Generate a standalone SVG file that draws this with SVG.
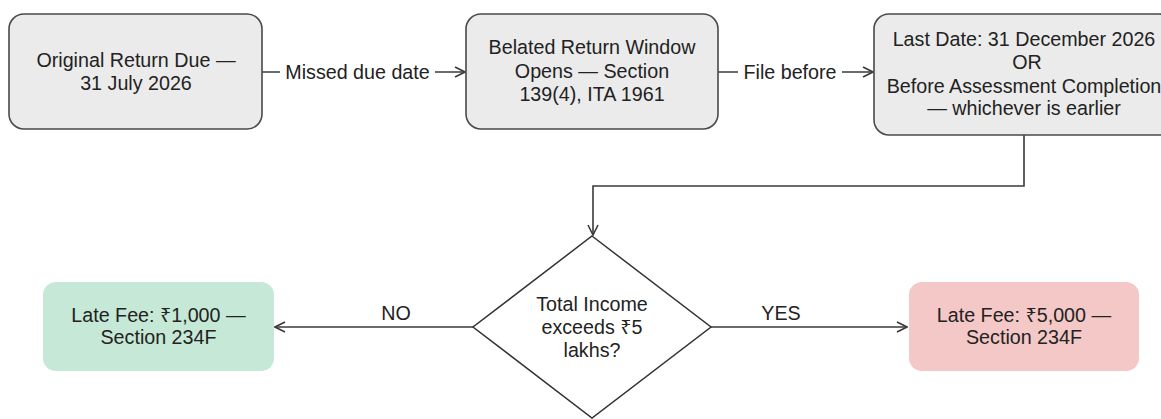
<svg xmlns="http://www.w3.org/2000/svg" width="1161" height="419" viewBox="0 0 1161 419">
<defs>
<style>
text{font-family:"Liberation Sans","Noto Sans","DejaVu Sans",Arial,sans-serif;font-size:19.7px;fill:#222;text-anchor:middle}
.box{fill:#ebebeb;stroke:#4a4a4a;stroke-width:1.6}
.dia{fill:#fff;stroke:#333;stroke-width:1.5}
.edge{fill:none;stroke:#3a3a3a;stroke-width:1.6}
.lblbg{fill:#fff}
.green{fill:#c6e8d6}
.red{fill:#f4c8c7}
</style>
<marker id="arr" viewBox="0 0 12 12" refX="11" refY="6" markerWidth="12" markerHeight="12" markerUnits="userSpaceOnUse" orient="auto">
<path d="M1,1 L11,6 L1,11" fill="none" stroke="#3a3a3a" stroke-width="1.6"/>
</marker>
</defs>
<rect width="1161" height="419" fill="#fff"/>

<g id="connectors">
<path class="edge" d="M262,72 H465" marker-end="url(#arr)"/>
<rect class="lblbg" x="280" y="58" width="155" height="28"/>
<text x="357.5" y="78.5">Missed due date</text>
<path class="edge" d="M718,72 H873" marker-end="url(#arr)"/>
<rect class="lblbg" x="738" y="58" width="104" height="28"/>
<text x="790" y="78.5">File before</text>
<path class="edge" d="M1024,135 V186 H593 V235" marker-end="url(#arr)"/>
<path class="edge" d="M473,327 H275" marker-end="url(#arr)"/>
<text x="396" y="320">NO</text>
<path class="edge" d="M711,327 H907" marker-end="url(#arr)"/>
<text x="781" y="320">YES</text>
</g>

<g id="node-original">
<rect class="box" x="9" y="14" width="253" height="115" rx="15"/>
<text x="136" y="66.7">Original Return Due —</text>
<text x="136" y="89.5">31 July 2026</text>
</g>

<g id="node-belated">
<rect class="box" x="466" y="14" width="252" height="115" rx="15"/>
<text x="592" y="54.3">Belated Return Window</text>
<text x="592" y="77.5">Opens — Section</text>
<text x="592" y="100.7">139(4), ITA 1961</text>
</g>

<g id="node-lastdate">
<rect class="box" x="874" y="14" width="300" height="121" rx="15"/>
<text x="1024" y="45.7">Last Date: 31 December 2026</text>
<text x="1027" y="69">OR</text>
<text x="1024" y="92.5">Before Assessment Completion</text>
<text x="1024" y="115">— whichever is earlier</text>
</g>

<g id="node-decision">
<polygon class="dia" points="592,236 711,327 592,418 473,327"/>
<text x="592" y="311.3">Total Income</text>
<text x="592" y="334">exceeds ₹5</text>
<text x="592" y="356.7">lakhs?</text>
</g>

<g id="node-fee1000">
<rect class="green" x="43" y="282" width="231" height="89" rx="13"/>
<text x="158.5" y="321.7">Late Fee: ₹1,000 —</text>
<text x="158.5" y="344">Section 234F</text>
</g>

<g id="node-fee5000">
<rect class="red" x="909" y="282" width="230" height="89" rx="13"/>
<text x="1024" y="321.7">Late Fee: ₹5,000 —</text>
<text x="1024" y="344">Section 234F</text>
</g>
</svg>
